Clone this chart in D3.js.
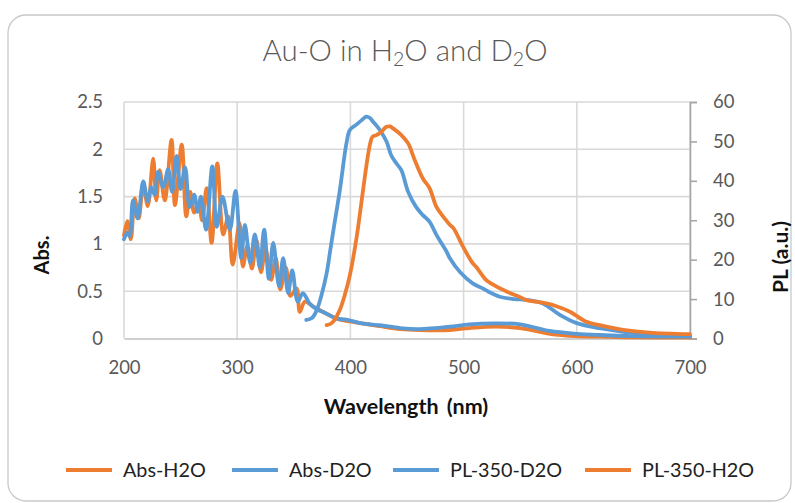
<!DOCTYPE html>
<html><head><meta charset="utf-8">
<script src="https://cdn.jsdelivr.net/npm/d3@7"></script>
<style>
html,body{margin:0;padding:0;background:#fff;}
svg{display:block;font-family:Lato,"Open Sans",sans-serif;}
</style></head>
<body><svg id="c" width="795" height="503"></svg>
<script>
// ---- data ----
const absH2O_x = [200,203,206,209.5,213,217,221,225.8,228.5,231.5,236,242,245,251,255,258.5,262,266,269,273,277.4,282.4,287.7,292,296,302,305,309,313,317,321,325,330,334,338,343,347,352.4,355.3,359.8,367,376,388,399.5,426,444,461,488,505,529,550,576,600,620,650,700];
const absH2O_y = [1.09,1.24,1.05,1.48,1.27,1.62,1.40,1.90,1.46,1.78,1.46,2.10,1.41,2.05,1.29,1.55,1.33,1.42,1.25,1.59,1.01,1.85,1.10,1.29,0.78,1.22,0.76,0.98,0.74,1.04,0.70,0.95,0.62,0.85,0.52,0.75,0.45,0.53,0.28,0.39,0.34,0.28,0.21,0.18,0.13,0.10,0.09,0.09,0.11,0.125,0.11,0.05,0.025,0.02,0.012,0.01];

const absD2O_x = [200,203,205,208,212,217,221,224,227,230,234.7,239,242.5,246.5,250,254,258,262,265,268,272.5,278,282,287,293.5,298.5,303.5,306.8,311.5,315.6,320,323.8,328,331.8,337,340.6,345,348.6,353.5,358,364,370,376,388,396.5,410,426,444,461,488,505,529,550,576,600,620,650,700];
const absD2O_y = [1.05,1.12,1.08,1.46,1.27,1.66,1.45,1.60,1.52,1.76,1.60,1.79,1.55,1.93,1.58,1.81,1.39,1.52,1.34,1.50,1.15,1.82,1.18,1.50,1.15,1.56,0.85,1.20,0.80,1.10,0.75,1.15,0.63,1.01,0.55,0.85,0.48,0.72,0.39,0.48,0.37,0.31,0.28,0.21,0.20,0.16,0.14,0.11,0.10,0.125,0.15,0.16,0.15,0.08,0.05,0.037,0.025,0.02];

const plD2O_x = [361,366,370,374,379,382,385,390.6,396.5,399.5,405,410,414,417,420,426,432,436,440.7,445,451,458,464,470,476,485,488,497,508,517,520,532,545,555,570,585,600,620,641,664,700];
const plD2O_y = [4.7,5.2,7.0,10.5,16.5,22.0,27.5,37.5,49.5,52.9,54.2,55.4,56.3,56.0,55.0,52.9,49.9,46.5,44.4,42.7,37.2,33.4,31.3,29.6,26.3,22.0,20.3,16.8,14.0,12.7,12.2,10.6,10.0,9.8,8.9,6.0,3.9,2.6,1.7,1.1,0.6];

const plH2O_x = [379,383,386,390.6,395,399.5,405.4,411.2,415,417.5,419.5,423,426,431.9,435,437.7,445,451,456.8,464,470,476,482,488,491,499.5,508,511,520,523,538,550,555,573,582,594,608,623,641,664,700];
const plH2O_y = [3.4,3.8,4.7,7.2,11.0,16.0,25.5,37.7,45.5,49.5,51.2,51.6,52.1,53.7,53.8,53.3,51.6,49.5,45.3,40.6,38.1,33.4,30.9,28.8,28.0,23.3,19.1,18.2,14.8,14.2,11.9,10.5,9.8,8.9,8.2,6.8,4.3,3.2,2.2,1.5,1.1];

const xTicks = [200,300,400,500,600,700];
const absTicks = [0,0.5,1,1.5,2,2.5];
const plTicks = [0,10,20,30,40,50,60];
const legendNames = ["Abs-H2O","Abs-D2O","PL-350-D2O","PL-350-H2O"];
const ORANGE = "#ED7D31", BLUE = "#5B9BD5";
const legendColors = [ORANGE, BLUE, BLUE, ORANGE];

// ---- layout ----
const svg = d3.select("#c");
const L = 124, R = 690, T = 102, B = 338.5;
const x = d3.scaleLinear().domain([200,700]).range([L,R]);
const yL = d3.scaleLinear().domain([0,2.5]).range([B,T]);
const yR = d3.scaleLinear().domain([0,60]).range([B,T]);

// card
svg.append("rect").attr("x",8).attr("y",15).attr("width",783).attr("height",486)
  .attr("rx",18).attr("ry",18).attr("fill","#fff").attr("stroke","#c9c9c9").attr("stroke-width",1.3);

// title
const title = svg.append("text").attr("x",405).attr("y",61).attr("text-anchor","middle")
  .attr("font-size",29.5).attr("font-weight",300).attr("fill","#595959");
title.append("tspan").text("Au-O in H");
title.append("tspan").text("2").attr("font-size",19.5).attr("dy",5);
title.append("tspan").text("O and D").attr("dy",-5);
title.append("tspan").text("2").attr("font-size",19.5).attr("dy",5);
title.append("tspan").text("O").attr("dy",-5);

// gridlines
svg.append("g").selectAll("line").data(absTicks.filter(d=>d>0)).join("line")
  .attr("x1",L).attr("x2",R).attr("y1",d=>yL(d)).attr("y2",d=>yL(d))
  .attr("stroke","#d9d9d9").attr("stroke-width",1.6);
svg.append("g").selectAll("line").data(xTicks).join("line")
  .attr("x1",d=>x(d)).attr("x2",d=>x(d)).attr("y1",T).attr("y2",B)
  .attr("stroke","#d9d9d9").attr("stroke-width",1.6);

// axes
const fmt = d => String(d);
const gx = svg.append("g").attr("transform",`translate(0,${B})`)
  .call(d3.axisBottom(x).tickValues(xTicks).tickSize(0).tickPadding(22).tickFormat(fmt));
gx.select(".domain").attr("stroke","#bfbfbf").attr("stroke-width",1.6);
const gl = svg.append("g").attr("transform",`translate(${L},0)`)
  .call(d3.axisLeft(yL).tickValues(absTicks).tickSize(0).tickPadding(21).tickFormat(fmt));
gl.select(".domain").remove();
const gr = svg.append("g").attr("transform",`translate(${R},0)`)
  .call(d3.axisRight(yR).tickValues(plTicks).tickSize(7).tickPadding(16).tickFormat(fmt));
gr.select(".domain").attr("stroke","#a6a6a6").attr("stroke-width",1.6);
gr.selectAll(".tick line").attr("stroke","#a6a6a6").attr("stroke-width",1.6);
svg.selectAll(".tick text").attr("font-size",18.5).attr("fill","#595959")
  .attr("font-family","Lato,'Open Sans',sans-serif");

// axis titles
svg.append("text").attr("x",406).attr("y",414).attr("text-anchor","middle")
  .attr("font-size",21.5).attr("font-weight","bold").attr("fill","#111")
  .attr("word-spacing",3).text("Wavelength (nm)");
svg.append("text").attr("transform","translate(49,255) rotate(-90)").attr("text-anchor","middle")
  .attr("font-size",20).attr("font-weight","bold").attr("fill","#111").text("Abs.");
svg.append("text").attr("transform","translate(788,257) rotate(-90)").attr("text-anchor","middle")
  .attr("font-size",21).attr("font-weight","bold").attr("fill","#111").text("PL (a.u.)");

// series
const series = [
  {xs:absH2O_x, ys:absH2O_y, y:yL, c:ORANGE},
  {xs:absD2O_x, ys:absD2O_y, y:yL, c:BLUE},
  {xs:plD2O_x, ys:plD2O_y, y:yR, c:BLUE},
  {xs:plH2O_x, ys:plH2O_y, y:yR, c:ORANGE}
];
series.forEach(s => {
  const pts = s.xs.map((v,i)=>[v,s.ys[i]]);
  const line = d3.line().x(d=>x(d[0])).y(d=>s.y(d[1])).curve(d3.curveCatmullRom.alpha(0.5));
  svg.append("path").datum(pts).attr("d",line).attr("fill","none")
    .attr("stroke",s.c).attr("stroke-width",3.8).attr("stroke-linejoin","round").attr("stroke-linecap","round");
});

// legend
const legX = [66,232,393,585];
const lg = svg.append("g");
legendNames.forEach((n,i)=>{
  lg.append("line").attr("x1",legX[i]).attr("x2",legX[i]+46).attr("y1",470).attr("y2",470)
    .attr("stroke",legendColors[i]).attr("stroke-width",4);
  lg.append("text").attr("x",legX[i]+57).attr("y",477).attr("font-size",19.8)
    .attr("fill","#222").text(n);
});
</script></body></html>
